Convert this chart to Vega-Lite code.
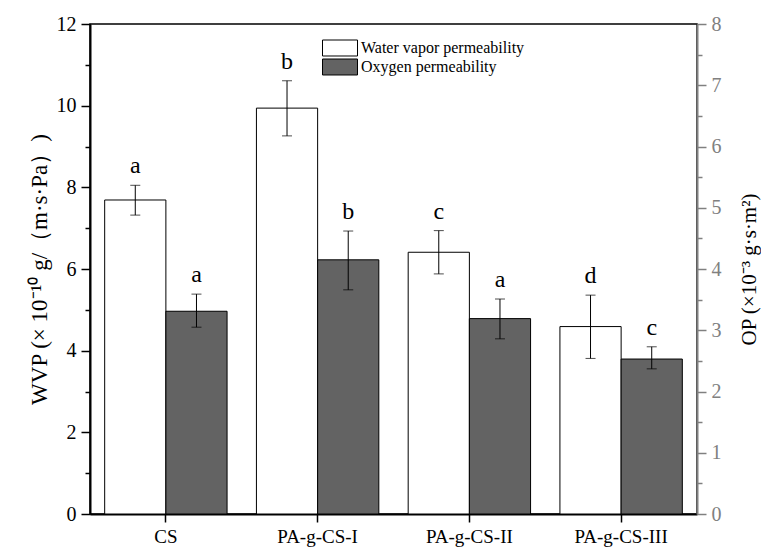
{
  "$schema": "https://vega.github.io/schema/vega-lite/v6.json",
  "width": 607,
  "height": 490,
  "autosize": "none",
  "padding": {"left": 90, "top": 24, "right": 64, "bottom": 35},
  "background": "white",
  "config": {
    "font": "Liberation Serif",
    "view": {"stroke": "black", "strokeWidth": 1.5},
    "axis": {"labelFont": "Liberation Serif", "titleFont": "Liberation Serif", "grid": false, "titleFontWeight": "normal"},
    "legend": {"labelFont": "Liberation Serif", "labelFontSize": 16, "labelColor": "black", "labelLimit": 400}
  },
  "data": {
    "values": [
      {"cat": "CS", "series": "Water vapor permeability", "value": 7.69, "lo": 7.32, "hi": 8.05, "letter": "a"},
      {"cat": "CS", "series": "Oxygen permeability", "value": 3.31, "lo": 3.05, "hi": 3.59, "letter": "a"},
      {"cat": "PA-g-CS-I", "series": "Water vapor permeability", "value": 9.94, "lo": 9.26, "hi": 10.61, "letter": "b"},
      {"cat": "PA-g-CS-I", "series": "Oxygen permeability", "value": 4.15, "lo": 3.66, "hi": 4.62, "letter": "b"},
      {"cat": "PA-g-CS-II", "series": "Water vapor permeability", "value": 6.41, "lo": 5.88, "hi": 6.94, "letter": "c"},
      {"cat": "PA-g-CS-II", "series": "Oxygen permeability", "value": 3.19, "lo": 2.86, "hi": 3.51, "letter": "a"},
      {"cat": "PA-g-CS-III", "series": "Water vapor permeability", "value": 4.59, "lo": 3.81, "hi": 5.36, "letter": "d"},
      {"cat": "PA-g-CS-III", "series": "Oxygen permeability", "value": 2.53, "lo": 2.37, "hi": 2.73, "letter": "c"}
    ]
  },
  "encoding": {
    "x": {
      "field": "cat", "type": "nominal",
      "sort": ["CS", "PA-g-CS-I", "PA-g-CS-II", "PA-g-CS-III"],
      "scale": {"paddingInner": 0, "paddingOuter": 0},
      "axis": {"title": null, "labelAngle": 0, "labelFontSize": 19, "labelColor": "black", "tickSize": 8, "tickWidth": 1.5, "tickColor": "black", "domainColor": "black", "domainWidth": 2, "labelPadding": 5}
    },
    "xOffset": {
      "field": "series", "type": "nominal",
      "scale": {"domain": ["Water vapor permeability", "Oxygen permeability"], "paddingInner": 0, "paddingOuter": 0.24}
    }
  },
  "layer": [
    {
      "transform": [{"filter": "datum.series === 'Water vapor permeability'"}],
      "encoding": {
        "y": {
          "type": "quantitative",
          "scale": {"domain": [0, 12], "nice": false},
          "title": "WVP (× 10⁻¹⁰ g/（m·s·Pa）)",
          "axis": {
            "orient": "left",
            "values": [0, 1, 2, 3, 4, 5, 6, 7, 8, 9, 10, 11, 12],
            "labelExpr": "datum.value % 2 === 0 ? datum.label : ''",
            "tickSize": {"condition": {"test": "datum.value % 2 === 0", "value": 9}, "value": 5},
            "tickWidth": 1.5, "tickColor": "black", "domainColor": "black", "domainWidth": 2,
            "labelFontSize": 20, "labelColor": "black", "labelPadding": 5,
            "titleFontSize": 23, "titleColor": "black", "titlePadding": 5
          }
        }
      },
      "layer": [
        {
          "mark": {"type": "bar", "stroke": "black", "strokeWidth": 1},
          "encoding": {
            "y": {"field": "value", "type": "quantitative"},
            "fill": {
              "field": "series", "type": "nominal",
              "scale": {"domain": ["Water vapor permeability"], "range": ["white"]},
              "legend": {
                "title": null, "orient": "none", "legendX": 232, "legendY": 6,
                "symbolType": "M-1,-0.457H1V0.457H-1Z", "symbolSize": 1225,
                "symbolStrokeColor": "black", "symbolStrokeWidth": 1,
                "labelOffset": 3, "padding": 0
              }
            }
          }
        },
        {
          "mark": {"type": "rule", "color": "black", "strokeWidth": 1},
          "encoding": {"y": {"field": "lo", "type": "quantitative"}, "y2": {"field": "hi"}}
        },
        {
          "mark": {"type": "tick", "color": "black", "thickness": 1, "size": 10},
          "encoding": {"y": {"field": "lo", "type": "quantitative"}}
        },
        {
          "mark": {"type": "tick", "color": "black", "thickness": 1, "size": 10},
          "encoding": {"y": {"field": "hi", "type": "quantitative"}}
        },
        {
          "mark": {"type": "text", "font": "Liberation Serif", "fontSize": 24, "baseline": "alphabetic", "dy": -12, "color": "black"},
          "encoding": {"y": {"field": "hi", "type": "quantitative"}, "text": {"field": "letter"}}
        }
      ]
    },
    {
      "transform": [{"filter": "datum.series === 'Oxygen permeability'"}],
      "encoding": {
        "y": {
          "type": "quantitative",
          "scale": {"domain": [0, 8], "nice": false},
          "title": "OP (×10⁻³ g·s·m²)",
          "axis": {
            "orient": "right",
            "values": [0, 0.5, 1, 1.5, 2, 2.5, 3, 3.5, 4, 4.5, 5, 5.5, 6, 6.5, 7, 7.5, 8],
            "labelExpr": "datum.value % 1 === 0 ? format(datum.value, 'd') : ''",
            "tickSize": {"condition": {"test": "datum.value % 1 === 0", "value": 9}, "value": 5},
            "tickWidth": 1.5, "tickColor": "#808080", "domainColor": "#808080", "domainWidth": 2,
            "labelFontSize": 20, "labelColor": "#808080", "labelPadding": 5,
            "titleFontSize": 21, "titleColor": "black", "titlePadding": 17, "titleAngle": 270, "titleBaseline": "top"
          }
        }
      },
      "layer": [
        {
          "mark": {"type": "bar", "stroke": "black", "strokeWidth": 1},
          "encoding": {
            "y": {"field": "value", "type": "quantitative"},
            "fill": {
              "field": "series", "type": "nominal",
              "scale": {"domain": ["Oxygen permeability"], "range": ["#636363"]},
              "legend": {
                "title": null, "orient": "none", "legendX": 232, "legendY": 25,
                "symbolType": "M-1,-0.457H1V0.457H-1Z", "symbolSize": 1225,
                "symbolStrokeColor": "black", "symbolStrokeWidth": 1,
                "labelOffset": 3, "padding": 0
              }
            }
          }
        },
        {
          "mark": {"type": "rule", "color": "black", "strokeWidth": 1},
          "encoding": {"y": {"field": "lo", "type": "quantitative"}, "y2": {"field": "hi"}}
        },
        {
          "mark": {"type": "tick", "color": "black", "thickness": 1, "size": 10},
          "encoding": {"y": {"field": "lo", "type": "quantitative"}}
        },
        {
          "mark": {"type": "tick", "color": "black", "thickness": 1, "size": 10},
          "encoding": {"y": {"field": "hi", "type": "quantitative"}}
        },
        {
          "mark": {"type": "text", "font": "Liberation Serif", "fontSize": 24, "baseline": "alphabetic", "dy": -12, "color": "black"},
          "encoding": {"y": {"field": "hi", "type": "quantitative"}, "text": {"field": "letter"}}
        }
      ]
    }
  ],
  "resolve": {"scale": {"y": "independent", "fill": "independent"}, "legend": {"fill": "independent"}}
}
